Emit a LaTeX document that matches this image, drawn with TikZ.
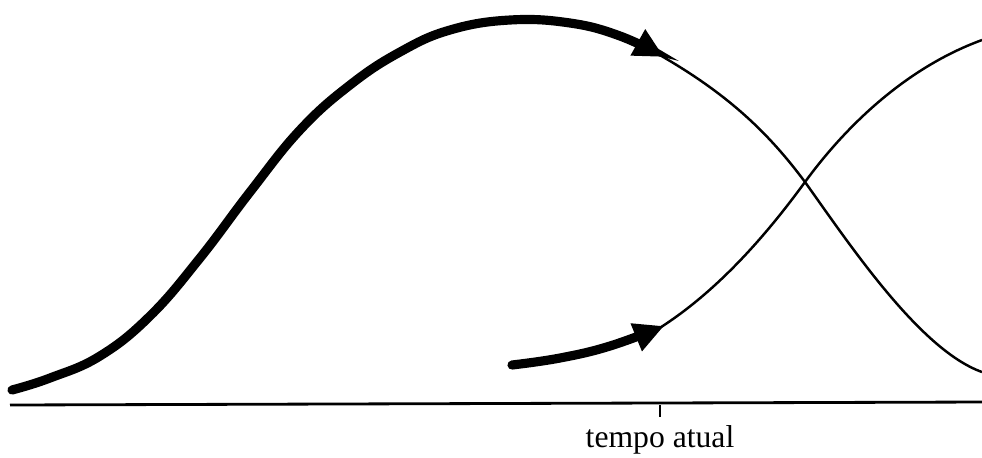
\documentclass[tikz,border=0pt]{standalone}
\usepackage{fontspec}
\setmainfont{Liberation Serif}
\usetikzlibrary{arrows.meta}

\begin{document}
\begin{tikzpicture}[x=0.01cm, y=-0.01cm, every node/.style={font=\fontsize{9}{11}\selectfont}]
    \useasboundingbox (0, 0) rectangle (982, 457);
    % time axis and the present
    \coordinate (axl) at (10, 405);
    \coordinate (axr) at (982, 402);
    \coordinate (now) at (660, 405);
    \draw[line width=0.8pt] (axl) -- (axr);
    \draw[line width=0.7pt] (now) -- ++(0, 12);
    \node[anchor=base, inner sep=0pt] (nowlab) at (660, 447) {tempo atual};
    % first curve: past part thick, future part thin
    \draw[line width=2.6pt, line cap=round, -{Triangle[length=0.3cm, width=0.28cm]}]
      plot[smooth, tension=0.7] coordinates {(12,390) (50,378) (100,356) (150,316)
        (200,258) (250,192) (300,130) (350,85) (400,52) (450,30) (510,20)
        (570,23) (620,36) (664,57)};
    \coordinate (c1) at (805, 182);
    \draw[line width=0.7pt] (658,54) .. controls (730,95) and (770,135) .. (c1)
      .. controls (850,245) and (920,350) .. (982,372);
    % second curve: starts later
    \draw[line width=2.6pt, line cap=round, -{Triangle[length=0.3cm, width=0.28cm]}]
      plot[smooth, tension=0.7] coordinates {(512,365) (560,358) (610,346) (664,326)};
    \draw[line width=0.7pt] (658,329) .. controls (720,290) and (770,230) .. (c1)
      .. controls (840,134) and (900,70) .. (982,40);
\end{tikzpicture}
\end{document}
